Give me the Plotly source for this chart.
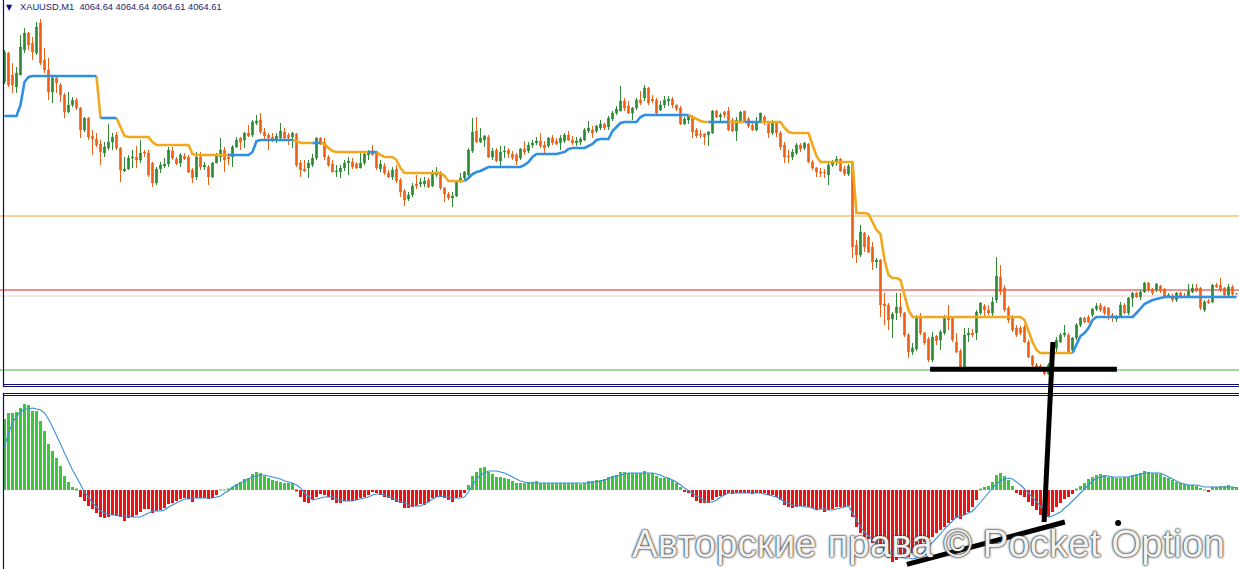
import plotly.graph_objects as go

W, H = 1239, 569

# ---- price data (XAUUSD M1), one entry per bar ----
bars = list(range(309))

open_ = [
    4085.8, 4088.7, 4086.5, 4085.3, 4086.5, 4089.0, 4090.7, 4089.7, 4088.7, 4091.7,
    4088.0, 4087.0, 4084.8, 4086.2, 4085.5, 4084.5, 4082.8, 4083.5, 4084.0, 4083.2,
    4081.0, 4082.2, 4080.4, 4080.1, 4079.6, 4078.7, 4079.2, 4079.8, 4080.5, 4079.2,
    4076.9, 4077.1, 4078.2, 4078.3, 4078.0, 4078.8, 4078.7, 4077.7, 4075.7, 4077.1,
    4077.4, 4077.6, 4078.9, 4078.1, 4077.7, 4078.4, 4078.3, 4077.0, 4076.3, 4078.3,
    4077.3, 4077.3, 4076.3, 4077.7, 4078.3, 4079.0, 4078.3, 4078.3, 4079.3, 4080.2,
    4080.0, 4080.7, 4080.5, 4081.7, 4082.0, 4080.8, 4080.5, 4080.3, 4080.0, 4080.2,
    4080.8, 4080.5, 4080.3, 4080.6, 4077.7, 4077.1, 4077.2, 4077.5, 4078.2, 4080.2,
    4079.8, 4078.3, 4077.6, 4076.8, 4076.8, 4077.2, 4077.7, 4077.8, 4077.6, 4077.2,
    4077.7, 4078.5, 4078.8, 4078.8, 4077.1, 4077.4, 4076.7, 4076.3, 4077.1, 4076.0,
    4074.9, 4074.1, 4074.5, 4075.6, 4075.6, 4075.6, 4076.0, 4075.4, 4076.5, 4076.8,
    4075.2, 4074.6, 4074.2, 4074.4, 4075.8, 4076.2, 4076.5, 4078.9, 4080.9, 4079.8,
    4080.0, 4080.3, 4078.3, 4079.0, 4077.9, 4078.8, 4079.0, 4078.6, 4078.5, 4078.2,
    4079.1, 4078.9, 4079.5, 4079.7, 4079.9, 4079.5, 4079.4, 4080.2, 4079.9, 4079.7,
    4079.9, 4080.5, 4080.0, 4079.7, 4079.8, 4080.0, 4080.9, 4081.0, 4080.9, 4081.2,
    4081.6, 4081.3, 4082.1, 4082.7, 4082.9, 4083.9, 4083.4, 4082.7, 4083.2, 4084.0,
    4084.2, 4085.2, 4084.1, 4084.0, 4083.0, 4083.5, 4083.9, 4084.1, 4083.5, 4083.2,
    4081.6, 4082.0, 4082.3, 4081.0, 4080.6, 4080.6, 4080.5, 4080.7, 4082.9, 4082.3,
    4082.8, 4082.9, 4082.0, 4080.9, 4081.9, 4082.9, 4082.1, 4081.5, 4081.0, 4081.8,
    4082.3, 4081.6, 4080.7, 4081.7, 4080.7, 4079.5, 4078.4, 4078.3, 4078.7, 4079.5,
    4079.2, 4079.6, 4077.8, 4077.2, 4076.8, 4076.8, 4076.5, 4077.5, 4077.7, 4078.1,
    4077.1, 4076.6, 4077.7, 4069.5, 4068.5, 4070.7, 4070.3, 4069.3, 4067.8, 4068.0,
    4063.6, 4063.5, 4062.1, 4062.7, 4063.3, 4062.7, 4060.5, 4058.8, 4059.1, 4062.3,
    4060.7, 4060.1, 4058.0, 4060.4, 4060.0, 4060.7, 4062.3, 4062.2, 4059.8, 4058.9,
    4057.3, 4060.5, 4060.7, 4060.7, 4062.7, 4063.4, 4063.0, 4062.7, 4064.0, 4066.3,
    4065.2, 4063.2, 4062.3, 4061.2, 4061.2, 4061.3, 4059.8, 4058.4, 4057.5, 4057.4,
    4057.2, 4056.6, 4057.4, 4059.2, 4059.8, 4060.5, 4060.5, 4059.0, 4060.2, 4061.5,
    4062.2, 4062.3, 4062.5, 4063.1, 4063.5, 4063.3, 4063.2, 4062.5, 4062.1, 4062.3,
    4063.5, 4062.7, 4064.2, 4064.7, 4064.3, 4064.8, 4065.7, 4065.1, 4065.0, 4065.4,
    4065.1, 4064.3, 4064.4, 4064.0, 4064.7, 4064.4, 4064.3, 4064.8, 4065.2, 4065.2,
    4063.0, 4063.9, 4063.8, 4065.5, 4065.5, 4065.2, 4064.5, 4065.3, 4064.64,
]
high = [
    4089.0, 4088.8, 4087.7, 4087.3, 4090.5, 4091.2, 4090.8, 4090.3, 4091.8, 4092.1,
    4089.2, 4088.2, 4086.5, 4086.3, 4085.7, 4084.7, 4084.8, 4084.3, 4084.2, 4083.3,
    4082.3, 4082.3, 4081.0, 4080.7, 4080.0, 4079.8, 4081.6, 4080.7, 4080.8, 4079.3,
    4078.3, 4078.5, 4079.0, 4079.4, 4080.0, 4079.0, 4079.0, 4077.8, 4077.3, 4077.8,
    4078.2, 4079.3, 4079.3, 4078.3, 4078.7, 4078.7, 4078.5, 4077.2, 4078.8, 4078.8,
    4077.8, 4077.5, 4077.8, 4078.7, 4080.2, 4079.3, 4078.7, 4079.5, 4080.3, 4080.3,
    4080.8, 4081.5, 4082.0, 4082.5, 4082.7, 4081.2, 4080.7, 4080.7, 4080.7, 4081.7,
    4081.2, 4080.7, 4080.8, 4080.7, 4078.0, 4078.0, 4078.0, 4078.6, 4080.3, 4080.3,
    4080.2, 4078.5, 4078.0, 4077.5, 4077.5, 4078.0, 4078.3, 4078.2, 4077.8, 4078.7,
    4078.8, 4079.0, 4079.5, 4078.9, 4078.0, 4077.7, 4077.0, 4077.3, 4077.5, 4076.2,
    4075.1, 4074.8, 4075.7, 4076.5, 4076.2, 4076.3, 4076.2, 4077.0, 4077.3, 4076.9,
    4075.3, 4074.8, 4074.8, 4076.0, 4076.7, 4076.9, 4079.2, 4082.2, 4082.3, 4081.2,
    4080.5, 4080.5, 4079.2, 4079.2, 4079.4, 4079.4, 4079.2, 4078.9, 4078.7, 4079.2,
    4079.9, 4079.8, 4080.0, 4080.3, 4080.7, 4079.9, 4080.3, 4080.5, 4080.2, 4080.5,
    4080.7, 4080.9, 4080.4, 4080.3, 4080.3, 4081.2, 4081.9, 4081.4, 4081.5, 4082.0,
    4081.7, 4082.4, 4082.9, 4083.4, 4085.4, 4084.2, 4083.9, 4083.3, 4084.2, 4084.9,
    4085.5, 4085.3, 4084.5, 4084.2, 4083.9, 4084.4, 4084.4, 4084.3, 4083.5, 4083.4,
    4082.3, 4082.5, 4082.5, 4081.2, 4081.0, 4080.7, 4080.9, 4083.0, 4083.0, 4082.7,
    4082.9, 4083.3, 4082.2, 4082.3, 4082.9, 4082.9, 4082.3, 4081.7, 4082.3, 4082.7,
    4082.5, 4081.8, 4082.0, 4081.7, 4080.9, 4079.8, 4079.0, 4079.1, 4079.7, 4079.7,
    4079.8, 4079.7, 4078.0, 4077.3, 4077.2, 4077.1, 4077.7, 4078.0, 4078.4, 4078.2,
    4077.4, 4077.6, 4077.8, 4070.0, 4071.5, 4070.8, 4070.5, 4069.8, 4068.2, 4068.1,
    4064.7, 4063.7, 4062.8, 4064.7, 4064.7, 4062.8, 4060.7, 4059.7, 4062.5, 4062.7,
    4060.8, 4060.3, 4060.8, 4060.5, 4061.0, 4062.5, 4063.5, 4062.3, 4060.7, 4059.1,
    4061.2, 4061.2, 4061.1, 4063.0, 4063.8, 4063.6, 4063.5, 4064.3, 4068.3, 4067.5,
    4065.5, 4063.4, 4062.5, 4061.5, 4061.4, 4061.5, 4060.0, 4058.5, 4057.7, 4057.6,
    4057.3, 4057.7, 4059.4, 4060.3, 4060.7, 4061.5, 4060.7, 4060.3, 4061.7, 4062.3,
    4062.3, 4062.5, 4063.2, 4063.7, 4063.7, 4063.4, 4063.3, 4062.7, 4062.5, 4063.8,
    4063.7, 4064.3, 4064.8, 4064.8, 4065.0, 4065.8, 4065.8, 4065.2, 4065.7, 4065.5,
    4065.2, 4064.7, 4064.6, 4064.8, 4064.8, 4064.7, 4065.6, 4065.6, 4065.6, 4065.3,
    4064.0, 4064.1, 4065.6, 4065.7, 4066.2, 4065.3, 4065.6, 4065.5, 4064.64,
]
low = [
    4085.6, 4085.3, 4084.7, 4084.7, 4086.5, 4088.7, 4089.0, 4088.0, 4088.5, 4087.5,
    4086.7, 4084.0, 4083.7, 4084.7, 4083.8, 4082.2, 4082.7, 4083.3, 4083.0, 4080.2,
    4080.8, 4080.0, 4078.5, 4079.3, 4077.5, 4078.3, 4079.0, 4079.0, 4079.0, 4075.8,
    4076.8, 4077.0, 4077.2, 4077.2, 4077.7, 4078.3, 4076.3, 4075.3, 4075.5, 4076.7,
    4077.2, 4077.3, 4078.0, 4077.5, 4077.3, 4078.0, 4076.7, 4075.7, 4076.0, 4077.0,
    4077.0, 4075.5, 4076.2, 4077.7, 4077.8, 4076.8, 4077.5, 4077.3, 4079.2, 4079.0,
    4079.2, 4080.3, 4080.3, 4081.5, 4080.6, 4080.0, 4079.0, 4079.8, 4079.7, 4080.1,
    4080.0, 4079.5, 4079.2, 4077.3, 4076.3, 4076.8, 4076.2, 4077.3, 4078.0, 4079.5,
    4078.0, 4077.3, 4076.8, 4076.3, 4076.2, 4076.9, 4076.5, 4077.1, 4077.1, 4077.2,
    4077.5, 4078.0, 4078.5, 4077.0, 4076.8, 4076.5, 4076.2, 4076.0, 4075.7, 4074.3,
    4073.4, 4073.9, 4074.3, 4075.1, 4075.3, 4075.3, 4075.2, 4075.3, 4076.3, 4075.0,
    4073.8, 4074.0, 4073.3, 4074.3, 4075.7, 4076.0, 4076.3, 4078.7, 4079.7, 4079.7,
    4079.3, 4078.2, 4078.0, 4077.8, 4077.4, 4078.2, 4078.2, 4078.0, 4077.5, 4078.0,
    4078.5, 4078.7, 4079.2, 4079.5, 4079.2, 4078.7, 4079.2, 4079.5, 4079.5, 4079.0,
    4079.7, 4079.9, 4079.5, 4079.4, 4079.5, 4079.9, 4080.7, 4080.2, 4080.7, 4081.0,
    4081.0, 4081.0, 4081.9, 4082.5, 4082.9, 4082.9, 4082.6, 4082.0, 4083.0, 4083.5,
    4083.9, 4083.5, 4083.7, 4082.4, 4082.9, 4083.2, 4083.4, 4083.2, 4082.9, 4081.5,
    4081.5, 4081.6, 4080.2, 4080.2, 4080.2, 4079.5, 4079.4, 4080.6, 4082.2, 4081.9,
    4082.2, 4080.9, 4080.8, 4079.9, 4081.9, 4081.9, 4081.2, 4080.9, 4080.9, 4081.7,
    4081.5, 4080.2, 4080.5, 4080.3, 4079.0, 4077.7, 4077.7, 4078.0, 4078.5, 4078.8,
    4079.0, 4077.7, 4077.0, 4076.3, 4076.3, 4076.2, 4075.5, 4077.3, 4077.4, 4076.8,
    4076.4, 4076.4, 4068.2, 4067.7, 4068.3, 4068.8, 4068.7, 4067.0, 4067.2, 4062.3,
    4061.5, 4061.0, 4060.2, 4062.0, 4062.3, 4060.3, 4058.2, 4058.5, 4058.9, 4060.5,
    4059.5, 4057.8, 4057.8, 4059.5, 4059.0, 4060.5, 4061.0, 4059.8, 4058.7, 4057.2,
    4057.2, 4059.8, 4060.3, 4060.0, 4062.5, 4062.2, 4062.5, 4062.2, 4063.7, 4064.5,
    4062.8, 4061.7, 4060.8, 4060.3, 4060.5, 4059.7, 4058.2, 4057.3, 4057.0, 4056.8,
    4056.5, 4056.5, 4057.2, 4058.7, 4059.7, 4060.3, 4058.7, 4058.8, 4060.0, 4061.3,
    4061.7, 4061.7, 4062.3, 4062.9, 4062.8, 4062.5, 4062.0, 4061.8, 4061.8, 4062.2,
    4062.6, 4062.5, 4063.3, 4064.2, 4064.0, 4064.7, 4064.8, 4064.5, 4064.8, 4064.7,
    4064.2, 4064.2, 4063.8, 4063.8, 4064.3, 4064.2, 4064.2, 4064.7, 4064.8, 4063.0,
    4062.8, 4063.6, 4063.7, 4065.2, 4064.8, 4064.3, 4064.3, 4064.3, 4064.61,
]
close = [
    4088.8, 4085.5, 4085.5, 4086.7, 4089.3, 4090.7, 4089.5, 4088.8, 4091.3, 4087.7,
    4087.0, 4084.8, 4086.2, 4085.7, 4084.5, 4082.8, 4083.5, 4084.0, 4083.2, 4081.0,
    4082.2, 4080.3, 4080.1, 4079.5, 4078.8, 4079.3, 4079.8, 4080.3, 4079.2, 4077.0,
    4077.1, 4078.2, 4078.3, 4078.0, 4078.7, 4078.7, 4076.5, 4075.7, 4077.1, 4077.5,
    4077.6, 4079.0, 4078.2, 4077.6, 4078.5, 4078.1, 4076.8, 4076.2, 4078.3, 4077.3,
    4077.5, 4076.3, 4077.7, 4078.6, 4079.0, 4078.0, 4078.1, 4079.3, 4080.0, 4079.8,
    4080.7, 4080.4, 4081.8, 4081.9, 4080.8, 4080.4, 4080.2, 4080.0, 4080.4, 4080.9,
    4080.2, 4080.2, 4080.7, 4077.5, 4077.0, 4076.9, 4077.7, 4078.2, 4080.2, 4079.8,
    4078.3, 4077.5, 4076.8, 4076.9, 4077.2, 4077.7, 4077.9, 4077.3, 4077.2, 4077.7,
    4078.6, 4078.7, 4078.5, 4077.2, 4077.6, 4076.7, 4076.3, 4077.0, 4075.9, 4074.8,
    4074.0, 4074.5, 4075.4, 4075.4, 4075.8, 4075.9, 4075.3, 4076.7, 4076.8, 4075.2,
    4074.6, 4074.2, 4074.4, 4075.8, 4076.2, 4076.8, 4079.0, 4080.8, 4079.8, 4080.2,
    4080.4, 4078.3, 4078.9, 4077.9, 4078.8, 4078.9, 4078.6, 4078.2, 4077.9, 4079.1,
    4078.8, 4079.5, 4079.7, 4079.9, 4079.4, 4079.2, 4080.2, 4079.7, 4079.6, 4080.2,
    4080.5, 4080.0, 4079.7, 4079.9, 4080.1, 4081.0, 4081.2, 4080.7, 4081.4, 4081.6,
    4081.2, 4082.2, 4082.7, 4083.1, 4083.9, 4083.2, 4082.7, 4083.2, 4084.0, 4083.7,
    4085.2, 4083.7, 4083.9, 4082.7, 4083.5, 4084.0, 4084.1, 4083.5, 4083.1, 4081.6,
    4082.1, 4082.4, 4080.8, 4080.4, 4080.5, 4080.3, 4080.8, 4082.9, 4082.3, 4082.5,
    4082.5, 4081.0, 4080.9, 4082.0, 4082.8, 4081.9, 4081.4, 4081.0, 4081.7, 4082.7,
    4081.8, 4080.7, 4081.8, 4080.7, 4079.3, 4078.3, 4078.3, 4078.8, 4079.5, 4079.1,
    4079.7, 4077.8, 4077.2, 4076.8, 4076.7, 4076.7, 4077.5, 4077.8, 4078.1, 4076.9,
    4076.6, 4077.4, 4069.3, 4068.5, 4070.8, 4069.3, 4068.8, 4067.8, 4068.0, 4063.5,
    4063.4, 4062.0, 4062.6, 4063.3, 4062.7, 4060.5, 4058.8, 4059.2, 4062.2, 4060.7,
    4059.7, 4058.0, 4060.3, 4059.9, 4060.8, 4062.3, 4062.0, 4060.0, 4058.8, 4057.3,
    4060.5, 4060.7, 4060.5, 4062.8, 4063.7, 4063.0, 4062.7, 4063.8, 4066.4, 4064.8,
    4063.0, 4062.0, 4061.0, 4060.5, 4060.7, 4059.8, 4058.3, 4057.5, 4057.3, 4057.1,
    4056.6, 4057.5, 4059.2, 4060.0, 4060.5, 4060.7, 4058.8, 4060.2, 4061.5, 4062.2,
    4061.8, 4061.8, 4063.1, 4063.4, 4063.0, 4062.7, 4062.5, 4062.2, 4062.3, 4063.5,
    4062.7, 4064.2, 4064.7, 4064.3, 4064.8, 4065.7, 4065.0, 4064.7, 4065.6, 4064.9,
    4064.3, 4064.5, 4064.0, 4064.7, 4064.3, 4064.3, 4064.9, 4065.2, 4064.9, 4063.2,
    4063.8, 4063.7, 4065.5, 4065.3, 4065.0, 4064.5, 4065.3, 4064.6, 4064.61,
]

# trailing stop line, (first bar, values) per coloured stretch
trail_up = [  # blue
    (0, [4082.4, 4082.4, 4082.4, 4082.4, 4083.5, 4085.8, 4086.3, 4086.4, 4086.4, 4086.4,
         4086.4, 4086.4, 4086.4, 4086.4, 4086.4, 4086.4, 4086.4, 4086.4, 4086.4, 4086.4,
         4086.4, 4086.4, 4086.4, 4086.4]),
    (24, [4082.2, 4082.2, 4082.2, 4082.2, 4082.2]),
    (56, [4078.5, 4078.5, 4078.5, 4078.5, 4078.5, 4078.5, 4078.8, 4079.9, 4080.0, 4080.0,
          4080.0, 4080.0, 4080.0, 4080.0, 4080.0, 4080.0, 4080.0]),
    (77, [4079.7, 4079.7, 4079.7]),
    (91, [4078.8, 4078.8, 4078.8]),
    (115, [4075.9, 4076.2, 4076.6, 4076.8, 4076.9, 4077.1, 4077.3, 4077.3, 4077.3, 4077.3,
           4077.3, 4077.3, 4077.3, 4077.3, 4077.3, 4077.5, 4077.8, 4078.3, 4078.6, 4078.6,
           4078.6, 4078.6, 4078.6, 4078.6, 4078.7, 4078.8, 4079.1, 4079.2, 4079.2, 4079.2,
           4079.2, 4079.4, 4079.6, 4080.0, 4080.1, 4080.1, 4080.1, 4080.9, 4081.3, 4081.7,
           4081.8, 4081.8, 4081.8, 4081.8, 4082.3, 4082.5, 4082.5, 4082.5, 4082.5, 4082.5,
           4082.5, 4082.5, 4082.5, 4082.5, 4082.5, 4082.5, 4082.5]),
    (176, [4081.8, 4081.8, 4081.8, 4081.8, 4081.8, 4081.8]),
    (185, [4081.8, 4081.8, 4081.8, 4081.8, 4081.8]),
    (267, [4058.7, 4059.5, 4060.4, 4060.7, 4061.2, 4062.0, 4062.3, 4062.3, 4062.3, 4062.3,
           4062.3, 4062.3, 4062.3, 4062.3, 4062.3, 4062.3, 4062.7, 4063.2, 4063.6, 4063.8,
           4064.0, 4064.1, 4064.2, 4064.3, 4064.3, 4064.3, 4064.3, 4064.3, 4064.3, 4064.3,
           4064.3, 4064.3, 4064.3, 4064.3, 4064.3, 4064.3, 4064.3, 4064.3, 4064.3, 4064.3,
           4064.3, 4064.3]),
]
trail_dn = [  # orange
    (23, [4086.4, 4082.2]),
    (28, [4082.2, 4081.2, 4080.4, 4080.3, 4080.3, 4080.3, 4080.3, 4080.3, 4080.3, 4079.8,
          4079.5, 4079.5, 4079.5, 4079.5, 4079.5, 4079.5, 4079.5, 4079.5, 4079.5, 4078.6,
          4078.5, 4078.5, 4078.5, 4078.5, 4078.5, 4078.5, 4078.5, 4078.5, 4078.5]),
    (72, [4080.0, 4079.9, 4079.7, 4079.7, 4079.7, 4079.7]),
    (79, [4079.7, 4079.6, 4079.2, 4078.9, 4078.8, 4078.8, 4078.8, 4078.8, 4078.8, 4078.8,
          4078.8, 4078.8, 4078.8]),
    (93, [4078.8, 4078.5, 4078.3, 4078.3, 4078.3, 4078.0, 4077.2, 4076.7, 4076.7, 4076.7,
          4076.7, 4076.7, 4076.7, 4076.7, 4076.7, 4076.7, 4076.7, 4076.4, 4075.9, 4075.9,
          4075.9, 4075.9, 4075.9]),
    (171, [4082.5, 4082.3, 4082.1, 4081.9, 4081.8, 4081.8]),
    (181, [4081.8, 4081.8, 4081.8, 4081.8, 4081.8]),
    (189, [4081.8, 4081.8, 4081.8, 4081.8, 4081.8, 4081.8, 4081.2, 4080.8, 4080.7, 4080.7,
           4080.7, 4080.7, 4080.7, 4079.5, 4078.4, 4077.8, 4077.8, 4077.8, 4077.8, 4077.8,
           4077.8, 4077.8, 4077.8, 4077.8, 4072.7, 4072.7, 4072.7, 4072.6, 4071.8, 4071.0,
           4070.6, 4068.0, 4066.5, 4066.2, 4066.2, 4066.0, 4064.5, 4063.0, 4062.3, 4062.3,
           4062.3, 4062.3, 4062.3, 4062.3, 4062.3, 4062.3, 4062.3, 4062.3, 4062.3, 4062.3,
           4062.3, 4062.3, 4062.3, 4062.3, 4062.3, 4062.3, 4062.3, 4062.3, 4062.3, 4062.3,
           4062.3, 4062.3, 4062.3, 4062.3, 4062.3, 4062.3, 4062.0, 4060.8, 4059.8, 4059.0,
           4058.7, 4058.7, 4058.7, 4058.7, 4058.7, 4058.7, 4058.7, 4058.7, 4058.7]),
]

# horizontal levels
level_orange = 4072.4
level_red = 4065.0
level_gray = 4064.4
level_green = 4057.0

# oscillator histogram + signal
hist = [
    0.71, 0.77, 0.77, 0.78, 0.82, 0.86, 0.85, 0.79, 0.79, 0.69,
    0.59, 0.46, 0.39, 0.32, 0.24, 0.14, 0.08, 0.03, 0.01, -0.07,
    -0.11, -0.16, -0.19, -0.23, -0.27, -0.28, -0.27, -0.25, -0.26, -0.27,
    -0.31, -0.28, -0.27, -0.25, -0.22, -0.19, -0.19, -0.23, -0.21, -0.20,
    -0.18, -0.14, -0.13, -0.11, -0.09, -0.08, -0.09, -0.12, -0.08, -0.08,
    -0.08, -0.09, -0.08, -0.05, 0.005, 0.005, 0.01, 0.03, 0.06, 0.08,
    0.11, 0.12, 0.16, 0.18, 0.17, 0.14, 0.12, 0.10, 0.09, 0.08,
    0.07, 0.07, 0.07, -0.01, -0.07, -0.12, -0.13, -0.10, -0.07, -0.04,
    -0.05, -0.07, -0.10, -0.13, -0.13, -0.11, -0.11, -0.11, -0.10, -0.08,
    -0.07, -0.05, -0.02, -0.03, -0.05, -0.07, -0.08, -0.10, -0.12, -0.13,
    -0.18, -0.18, -0.17, -0.16, -0.14, -0.15, -0.12, -0.08, -0.07, -0.07,
    -0.08, -0.10, -0.12, -0.08, -0.07, -0.03, 0.05, 0.14, 0.18, 0.22,
    0.23, 0.18, 0.16, 0.13, 0.13, 0.12, 0.11, 0.09, 0.07, 0.07,
    0.07, 0.08, 0.08, 0.09, 0.07, 0.07, 0.07, 0.07, 0.07, 0.07,
    0.07, 0.07, 0.07, 0.07, 0.06, 0.07, 0.09, 0.09, 0.10, 0.10,
    0.11, 0.13, 0.14, 0.15, 0.18, 0.18, 0.17, 0.17, 0.17, 0.17,
    0.19, 0.17, 0.17, 0.14, 0.12, 0.12, 0.12, 0.10, 0.07, 0.03,
    -0.02, -0.03, -0.07, -0.11, -0.13, -0.13, -0.13, -0.10, -0.07, -0.06,
    -0.05, -0.03, -0.04, -0.03, -0.03, -0.03, -0.03, -0.04, -0.03, -0.03,
    -0.03, -0.05, -0.05, -0.07, -0.10, -0.15, -0.17, -0.18, -0.17, -0.16,
    -0.16, -0.17, -0.18, -0.20, -0.19, -0.22, -0.20, -0.19, -0.17, -0.17,
    -0.17, -0.16, -0.27, -0.37, -0.43, -0.47, -0.49, -0.53, -0.57, -0.58,
    -0.63, -0.68, -0.72, -0.70, -0.67, -0.65, -0.67, -0.63, -0.60, -0.55,
    -0.52, -0.48, -0.47, -0.43, -0.40, -0.37, -0.33, -0.30, -0.28, -0.29,
    -0.25, -0.22, -0.17, -0.10, 0.01, 0.03, 0.04, 0.08, 0.15, 0.17,
    0.14, 0.10, 0.04, -0.03, -0.05, -0.07, -0.12, -0.16, -0.20, -0.25,
    -0.28, -0.27, -0.22, -0.17, -0.13, -0.09, -0.07, -0.04, 0.01, 0.04,
    0.07, 0.11, 0.13, 0.15, 0.16, 0.15, 0.13, 0.13, 0.12, 0.12,
    0.13, 0.13, 0.15, 0.16, 0.17, 0.19, 0.18, 0.17, 0.17, 0.16,
    0.13, 0.12, 0.10, 0.08, 0.07, 0.06, 0.05, 0.05, 0.04, 0.02,
    0.005, -0.02, 0.03, 0.03, 0.04, 0.04, 0.05, 0.03, 0.03,
]
signal = [
    0.43, 0.57, 0.67, 0.74, 0.78, 0.81, 0.81, 0.82, 0.81, 0.80,
    0.77, 0.71, 0.63, 0.55, 0.46, 0.37, 0.28, 0.20, 0.13, 0.05,
    -0.02, -0.07, -0.13, -0.17, -0.21, -0.23, -0.25, -0.25, -0.25, -0.26,
    -0.26, -0.26, -0.27, -0.27, -0.27, -0.25, -0.23, -0.21, -0.21, -0.21,
    -0.20, -0.17, -0.15, -0.13, -0.11, -0.09, -0.09, -0.08, -0.08, -0.08,
    -0.08, -0.08, -0.08, -0.07, -0.06, -0.03, -0.01, 0.03, 0.05, 0.07,
    0.09, 0.11, 0.13, 0.14, 0.15, 0.15, 0.14, 0.13, 0.12, 0.11,
    0.09, 0.08, 0.07, 0.05, 0.02, -0.03, -0.07, -0.10, -0.09, -0.08,
    -0.07, -0.07, -0.07, -0.09, -0.11, -0.11, -0.11, -0.11, -0.10, -0.09,
    -0.08, -0.07, -0.05, -0.04, -0.04, -0.05, -0.07, -0.08, -0.10, -0.12,
    -0.13, -0.15, -0.16, -0.16, -0.16, -0.14, -0.12, -0.09, -0.07, -0.06,
    -0.07, -0.07, -0.08, -0.08, -0.08, -0.07, -0.02, 0.05, 0.11, 0.15,
    0.17, 0.19, 0.19, 0.19, 0.18, 0.17, 0.15, 0.13, 0.11, 0.09,
    0.08, 0.07, 0.07, 0.07, 0.07, 0.07, 0.07, 0.07, 0.07, 0.07,
    0.07, 0.07, 0.07, 0.07, 0.07, 0.07, 0.07, 0.08, 0.08, 0.09,
    0.10, 0.11, 0.13, 0.14, 0.15, 0.16, 0.17, 0.17, 0.17, 0.17,
    0.17, 0.17, 0.17, 0.16, 0.15, 0.13, 0.12, 0.10, 0.08, 0.05,
    0.02, -0.01, -0.03, -0.06, -0.08, -0.11, -0.12, -0.12, -0.10, -0.07,
    -0.05, -0.03, -0.03, -0.03, -0.03, -0.03, -0.03, -0.03, -0.03, -0.03,
    -0.04, -0.05, -0.06, -0.07, -0.09, -0.12, -0.13, -0.15, -0.16, -0.16,
    -0.17, -0.17, -0.18, -0.20, -0.19, -0.19, -0.20, -0.20, -0.19, -0.18,
    -0.17, -0.16, -0.23, -0.30, -0.37, -0.42, -0.46, -0.49, -0.53, -0.56,
    -0.59, -0.61, -0.63, -0.65, -0.67, -0.68, -0.68, -0.69, -0.68, -0.65,
    -0.61, -0.57, -0.53, -0.48, -0.44, -0.39, -0.35, -0.31, -0.27, -0.26,
    -0.25, -0.23, -0.21, -0.17, -0.12, -0.07, -0.03, 0.02, 0.06, 0.09,
    0.11, 0.12, 0.11, 0.08, 0.05, 0.01, -0.03, -0.07, -0.12, -0.16,
    -0.22, -0.27, -0.26, -0.24, -0.22, -0.18, -0.15, -0.11, -0.07, -0.03,
    0.02, 0.06, 0.09, 0.12, 0.13, 0.14, 0.14, 0.13, 0.13, 0.13,
    0.13, 0.13, 0.14, 0.15, 0.16, 0.17, 0.17, 0.17, 0.17, 0.17,
    0.15, 0.13, 0.11, 0.09, 0.07, 0.06, 0.05, 0.05, 0.05, 0.04,
    0.03, 0.03, 0.03, 0.03, 0.03, 0.03, 0.03, 0.03, 0.02,
]

# hand-drawn marks on the chart (bar index, value)
mark_flat_x = [231.4, 278.1]
mark_flat_y = [4057.07, 4057.07]
mark_stem_x = [262.1, 259.9]
mark_stem_top = 4059.8     # price units
mark_stem_bottom = -0.32   # oscillator units
mark_slope_x = [225.6, 265.1]
mark_slope_y = [-0.743, -0.32]
mark_dot = (278.4, -0.33)

for name, arr in [("open", open_), ("high", high), ("low", low), ("close", close),
                  ("hist", hist), ("signal", signal)]:
    if len(arr) != len(bars):
        print("length mismatch", name, len(arr))

# ---- layout geometry ----
split = 1 - 396.5 / H
main_dom = [split, 1.0]
osc_dom = [0.0, split]
price_range = [4054.35, 4094.0]
osc_range = [-0.79, 0.935]
x_range = [-1.125, 308.625]

GREEN_C = "#2f8a35"
ORANGE_C = "#ee6218"
NAVY = "#0c0c6e"


def price_to_paper(p):
    return main_dom[0] + (p - price_range[0]) / (price_range[1] - price_range[0]) * (main_dom[1] - main_dom[0])


def osc_to_paper(v):
    return osc_dom[0] + (v - osc_range[0]) / (osc_range[1] - osc_range[0]) * (osc_dom[1] - osc_dom[0])


fig = go.Figure()

# trailing stop lines
for start, vals in trail_dn:
    fig.add_trace(go.Scatter(
        x=list(range(start, start + len(vals))), y=vals, mode="lines",
        line=dict(color="#f2a81c", width=2.6), hoverinfo="skip", showlegend=False
    ))
for start, vals in trail_up:
    fig.add_trace(go.Scatter(
        x=list(range(start, start + len(vals))), y=vals, mode="lines",
        line=dict(color="#2f8fe3", width=2.6), hoverinfo="skip", showlegend=False
    ))

fig.add_trace(go.Candlestick(
    x=bars, open=open_, high=high, low=low, close=close,
    increasing=dict(line=dict(color=GREEN_C, width=1), fillcolor=GREEN_C),
    decreasing=dict(line=dict(color=ORANGE_C, width=1), fillcolor=ORANGE_C),
    whiskerwidth=0, hoverinfo="skip", showlegend=False
))

# hand-drawn horizontal stroke
fig.add_trace(go.Scatter(
    x=mark_flat_x, y=mark_flat_y, mode="lines",
    line=dict(color="black", width=5), hoverinfo="skip", showlegend=False
))

# oscillator panel
fig.add_trace(go.Bar(
    x=bars, y=hist, xaxis="x2", yaxis="y2",
    marker=dict(color=["#3ec43e" if v > 0 else "#f01010" for v in hist], line=dict(width=0)),
    hoverinfo="skip", showlegend=False
))
fig.add_trace(go.Scatter(
    x=bars, y=signal, xaxis="x2", yaxis="y2", mode="lines",
    line=dict(color="#3a90d8", width=1.1), hoverinfo="skip", showlegend=False
))
fig.add_trace(go.Scatter(
    x=mark_slope_x, y=mark_slope_y, xaxis="x2", yaxis="y2", mode="lines",
    line=dict(color="black", width=5), hoverinfo="skip", showlegend=False
))
fig.add_trace(go.Scatter(
    x=[mark_dot[0]], y=[mark_dot[1]], xaxis="x2", yaxis="y2", mode="markers",
    marker=dict(color="black", size=6), hoverinfo="skip", showlegend=False
))

shapes = []
for lvl, col in [(level_orange, "#f2a72a"), (level_gray, "#d4d4d4"),
                 (level_red, "#e41e1e"), (level_green, "#45b845")]:
    shapes.append(dict(type="line", xref="paper", x0=0, x1=1, yref="y", y0=lvl, y1=lvl,
                       line=dict(color=col, width=1), layer="below"))

# window frames
for ypx in (384.5, 386.5, 393.5, 395.5):
    yp = 1 - ypx / H
    shapes.append(dict(type="line", xref="paper", yref="paper", x0=3 / W, x1=1, y0=yp, y1=yp,
                       line=dict(color=NAVY, width=1)))
shapes.append(dict(type="line", xref="paper", yref="paper", x0=3.5 / W, x1=3.5 / W,
                   y0=1 - 386.5 / H, y1=1, line=dict(color=NAVY, width=1.2)))
shapes.append(dict(type="line", xref="paper", yref="paper", x0=3.5 / W, x1=3.5 / W,
                   y0=0, y1=1 - 393.5 / H, line=dict(color=NAVY, width=1.2)))

# hand-drawn vertical stroke crossing both panels
shapes.append(dict(type="line", xref="x", yref="paper",
                   x0=mark_stem_x[0], y0=price_to_paper(mark_stem_top),
                   x1=mark_stem_x[1], y1=osc_to_paper(mark_stem_bottom),
                   line=dict(color="black", width=5)))

title_txt = "XAUUSD,M1  {:.2f} {:.2f} {:.2f} {:.2f}".format(open_[-1], high[-1], low[-1], close[-1])

annotations = [
    dict(text="▼", x=9 / W, y=1 - 7 / H, xref="paper", yref="paper", showarrow=False,
         xanchor="center", yanchor="middle", font=dict(size=8, color=NAVY, family="DejaVu Sans")),
    dict(text=title_txt, x=18 / W, y=1 - 7 / H, xref="paper", yref="paper", showarrow=False,
         xanchor="left", yanchor="middle",
         font=dict(size=9.3, color="#1e1e70", family="Liberation Sans, Arial")),
    dict(text="Авторские права © Pocket Option", x=928.5 / W, y=1 - 543 / H,
         xref="paper", yref="paper", showarrow=False, xanchor="center", yanchor="middle",
         font=dict(size=38.6, color="#f2f2f2", family="Liberation Sans, Arial",
                   shadow="0px 0px 1px #2a2a2a, 0px 0px 2px #3a3a3a, 0px 0px 3px #555555")),
]

axis_off = dict(showgrid=False, zeroline=False, showticklabels=False, ticks="", showline=False)

fig.update_layout(
    width=W, height=H,
    margin=dict(l=0, r=0, t=0, b=0),
    paper_bgcolor="white", plot_bgcolor="white",
    showlegend=False,
    boxgap=0.45,
    bargap=0.25,
    xaxis=dict(domain=[0, 1], range=x_range, anchor="y", rangeslider=dict(visible=False), **axis_off),
    yaxis=dict(domain=main_dom, range=price_range, anchor="x", **axis_off),
    xaxis2=dict(domain=[0, 1], range=x_range, anchor="y2", matches="x", **axis_off),
    yaxis2=dict(domain=osc_dom, range=osc_range, anchor="x2", **axis_off),
    shapes=shapes,
    annotations=annotations,
)

# the page body has a default 8px margin; drop it so the figure fills the window
fig.write_html("out.html", config={"displayModeBar": False},
               post_script="document.body.style.margin='0px';")
